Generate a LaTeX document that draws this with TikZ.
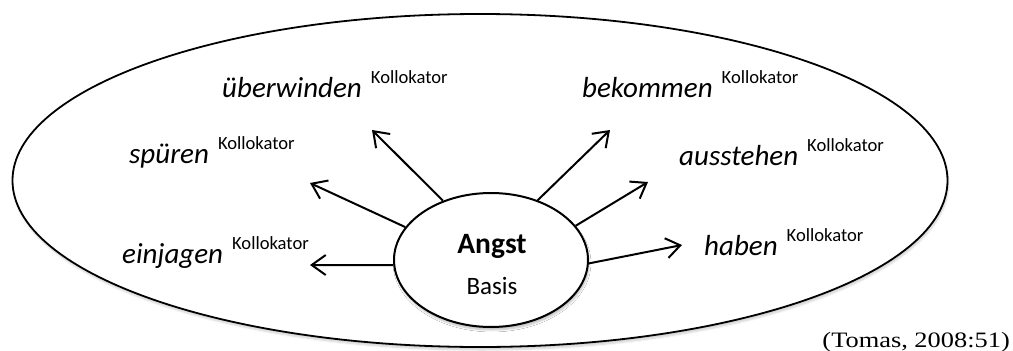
\documentclass[tikz,border=0pt]{standalone}
\usepackage{fontspec}
\setmainfont{Carlito}
\newfontfamily\citefont{Liberation Serif}
\usetikzlibrary{arrows.meta,shapes.geometric,shadows.blur}
\newcommand\kollo{\hspace{9pt}\raisebox{14pt}{\upshape\fontsize{18.6}{19}\selectfont Kollokator}}
\tikzset{
  word/.style={anchor=base west, inner sep=0pt, font=\fontsize{29}{30}\selectfont\itshape},
  arr/.style={line width=2pt, -{Straight Barb[length=14pt,width=20pt,line width=2pt]}},
  ring/.style={draw, line width=2pt, ellipse}
}
\begin{document}
\begin{tikzpicture}[x=1pt,y=-1pt]
\useasboundingbox (0,0) rectangle (1013,351);
% outer ellipse
\draw[line width=1.8pt, fill=white, blur shadow={shadow blur steps=6, shadow xshift=1pt, shadow yshift=-3pt, shadow opacity=18}] (480,180.5) ellipse [x radius=467.5, y radius=166.5];
% inner ellipse
\node[ring, fill=white, minimum width=194pt, minimum height=134pt, inner sep=0pt,
      blur shadow={shadow blur steps=6, shadow xshift=1pt, shadow yshift=-3pt, shadow opacity=25}] (basis) at (491,260) {};
\node[inner sep=0pt, anchor=base, font=\fontsize{29.5}{30}\selectfont\bfseries] (angst) at (492,253) {Angst};
\node[inner sep=0pt, anchor=base, font=\fontsize{25}{30}\selectfont] (basislbl) at (492,294) {Basis};
% words
\node[word] (w1) at (122,263) {einjagen\kollo};
\node[word] (w2) at (129,163) {spüren\kollo};
\node[word] (w3) at (222,97) {überwinden\kollo};
\node[word] (w4) at (582,97) {bekommen\kollo};
\node[word] (w5) at (679,165) {ausstehen\kollo};
\node[word] (w6) at (704,255) {haben\kollo};
% arrow tips
\coordinate (t1) at (310,265);
\coordinate (t2) at (310,183);
\coordinate (t3) at (372,130);
\coordinate (t4) at (610,130);
\coordinate (t5) at (648,182);
\coordinate (t6) at (682,245);
\draw[arr] (basis.183) -- (t1);
\draw[arr] (basis.159) -- (t2);
\draw[arr] (basis.129) -- (t3);
\draw[arr] (basis.52) -- (t4);
\draw[arr] (basis.22) -- (t5);
\draw[arr] (basis.-2) -- (t6);
% citation
\node[inner sep=0pt, anchor=base east] (cite) at (1010,347) {\scalebox{1.2}[1]{\citefont\fontsize{22}{23}\selectfont (Tomas, 2008:51)}};
\end{tikzpicture}
\end{document}
